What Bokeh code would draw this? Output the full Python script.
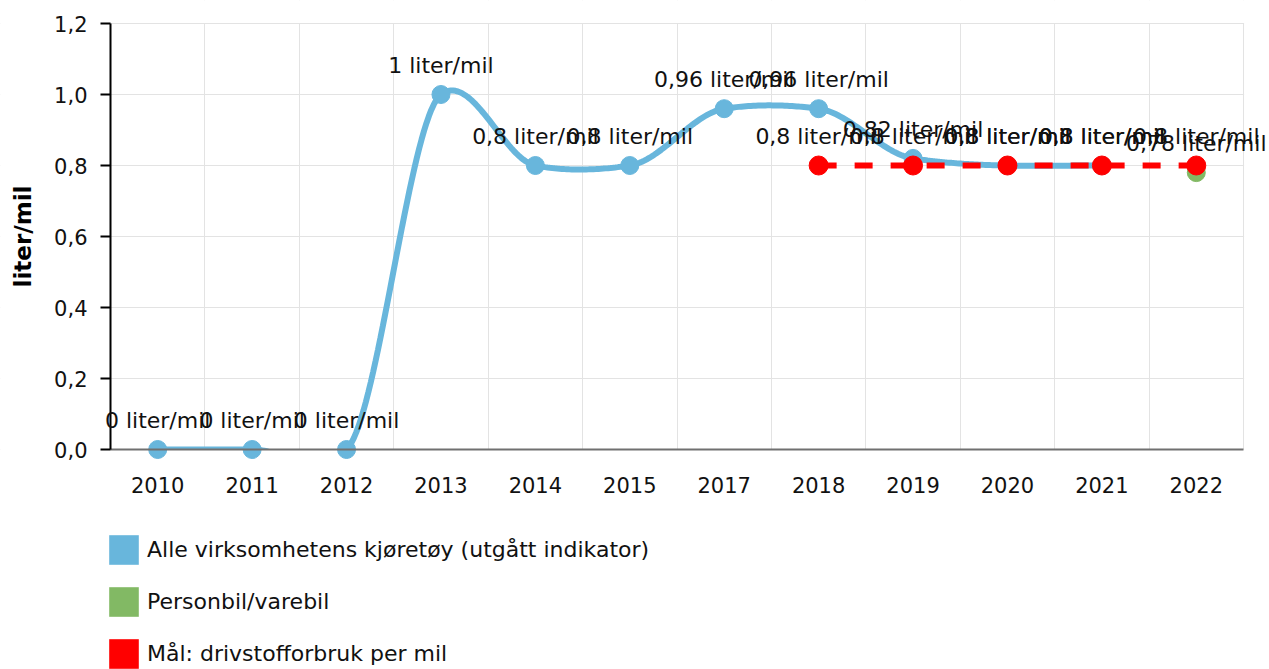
import numpy as np
from bokeh.plotting import figure
from bokeh.models import (Range1d, FixedTicker, Legend, LegendItem, LabelSet,
                          ColumnDataSource, CustomJSTickFormatter, BoxAnnotation)
from bokeh.core.properties import value
from bokeh.embed import file_html
from bokeh.resources import INLINE

# ---------------- data ----------------
years = ["2010", "2011", "2012", "2013", "2014", "2015", "2017",
         "2018", "2019", "2020", "2021", "2022"]
all_vehicles = [0, 0, 0, 1.0, 0.8, 0.8, 0.96, 0.96, 0.82, 0.8, 0.8, None]
car_van = [None, None, None, None, None, None, None, None, None, None, None, 0.78]
target = [None, None, None, None, None, None, None, 0.8, 0.8, 0.8, 0.8, 0.8]
series_names = ["Alle virksomhetens kjøretøy (utgått indikator)",
                "Personbil/varebil",
                "Mål: drivstofforbruk per mil"]
y_ticks = [0, 0.2, 0.4, 0.6, 0.8, 1.0, 1.2]
unit = "liter/mil"

BLUE = "#68b6dc"
GREEN = "#82b964"
RED = "#ff0000"
FONT = "DejaVu Sans"
FS = "21px"      # tick labels
FS_L = "22px"    # data labels and legend
TXT = "#111111"


def pts(vals):
    xs = [i for i, v in enumerate(vals) if v is not None]
    ys = [v for v in vals if v is not None]
    return xs, ys


def fmt(v):
    return ("%g" % v).replace(".", ",") + " " + unit


def cardinal(xs, ys, k=0.5, n=40):
    xs = np.asarray(xs, float)
    ys = np.asarray(ys, float)
    m = np.zeros_like(ys)
    m[1:-1] = (ys[2:] - ys[:-2]) / (xs[2:] - xs[:-2])
    m[0] = (ys[1] - ys[0]) / (xs[1] - xs[0]) / 2
    m[-1] = (ys[-1] - ys[-2]) / (xs[-1] - xs[-2]) / 2
    m = m * k
    ox, oy = [], []
    t = np.linspace(0, 1, n)
    h00 = 2 * t**3 - 3 * t**2 + 1
    h10 = t**3 - 2 * t**2 + t
    h01 = -2 * t**3 + 3 * t**2
    h11 = t**3 - t**2
    for i in range(len(xs) - 1):
        dx = xs[i + 1] - xs[i]
        ox.extend(xs[i] + t * dx)
        oy.extend(h00 * ys[i] + h10 * dx * m[i] + h01 * ys[i + 1] + h11 * dx * m[i + 1])
    return ox, oy


# ---------------- layout (pixels) ----------------
W, H = 1269, 669
PL, PR, PT, PB = 110, 1243, 23, 449          # plot area edges
n = len(years)
cat_w = (PR - PL) / n
x0, x1 = -0.5, n - 0.5
y0, y1 = y_ticks[0], y_ticks[-1]
ppu = (PB - PT) / (y1 - y0)
xr = Range1d(x0 - PL / cat_w, x0 + (W - PL) / cat_w)
yr = Range1d(y0 - (H - PB) / ppu, y1 + PT / ppu)

p = figure(width=W, height=H, output_backend="svg", toolbar_location=None,
           x_range=xr, y_range=yr, min_border=0)
p.outline_line_color = None
p.background_fill_color = "white"
p.border_fill_color = "white"

# axes (drawn at fixed data positions inside the canvas)
p.xaxis.fixed_location = y0
p.xaxis.bounds = (x0, x1)
p.xaxis.ticker = FixedTicker(ticks=list(range(n)))
p.xaxis.major_label_overrides = {i: y for i, y in enumerate(years)}
p.xaxis.major_tick_out = 0
p.xaxis.major_tick_in = 0
p.xaxis.minor_tick_out = 0
p.xaxis.minor_tick_in = 0
p.xaxis.axis_line_color = "#707070"
p.xaxis.axis_line_width = 2
p.xaxis.major_label_standoff = 27
p.xaxis.major_label_text_font = FONT
p.xaxis.major_label_text_font_size = FS
p.xaxis.major_label_text_color = TXT

p.yaxis.fixed_location = x0
p.yaxis.bounds = (y0, y1)
p.yaxis.ticker = FixedTicker(ticks=y_ticks)
p.yaxis.formatter = CustomJSTickFormatter(code="return tick.toFixed(1).replace('.', ',');")
p.yaxis.major_tick_out = 10
p.yaxis.major_tick_in = 0
p.yaxis.minor_tick_out = 0
p.yaxis.minor_tick_in = 0
p.yaxis.axis_line_color = "black"
p.yaxis.axis_line_width = 2
p.yaxis.major_tick_line_color = "black"
p.yaxis.major_tick_line_width = 2
p.yaxis.major_label_standoff = 13
p.yaxis.major_label_text_font = FONT
p.yaxis.major_label_text_font_size = FS
p.yaxis.major_label_text_color = TXT
p.yaxis.axis_label = unit
p.yaxis.axis_label_text_font = FONT
p.yaxis.axis_label_text_font_size = "23px"
p.yaxis.axis_label_text_font_style = "bold"
p.yaxis.axis_label_text_color = "black"
p.yaxis.axis_label_standoff = 15

p.xgrid.ticker = FixedTicker(ticks=[i + 0.5 for i in range(n)])
p.xgrid.grid_line_color = "#e3e3e3"
p.ygrid.grid_line_color = "#e3e3e3"

# white masks: keep grid lines inside the plot area
for kw in [dict(right=x0), dict(left=x1 + 0.6 / cat_w), dict(bottom=y1 + 0.6 / ppu)]:
    p.add_layout(BoxAnnotation(fill_color="white", fill_alpha=1, line_alpha=0,
                               level="underlay", **kw))

# series 1: smooth line
bx, by = pts(all_vehicles)
sx, sy = cardinal(bx, by)
p.line(sx, sy, line_color=BLUE, line_width=6)
# mask below the x axis (clips the spline and grid like the plot area does)
p.quad(left=[xr.start], right=[xr.end], bottom=[yr.start], top=[y0],
       fill_color="white", line_color=None)

p.scatter(bx, by, size=18, fill_color=BLUE, line_color=BLUE)

# series 2
gx, gy = pts(car_van)
p.scatter(gx, gy, size=18, fill_color=GREEN, line_color=GREEN)

# series 3: target
rx, ry = pts(target)
p.line(rx, ry, line_color=RED, line_width=6, line_dash="18 18")
p.scatter(rx, ry, size=19, fill_color=RED, line_color=RED)

# data labels
for xs, ys in [(bx, by), (gx, gy), (rx, ry)]:
    src = ColumnDataSource(dict(x=xs, y=ys, t=[fmt(v) for v in ys]))
    p.add_layout(LabelSet(x="x", y="y", text="t", source=src, text_align="center",
                          text_baseline="middle", y_offset=29,
                          text_font=value(FONT), text_font_size=FS_L, text_color=TXT))

# legend proxies (no visible data)
proxies = []
for c in [BLUE, GREEN, RED]:
    proxies.append(p.quad(left=[np.nan], right=[np.nan], top=[np.nan], bottom=[np.nan],
                          fill_color=c, line_color=None))
legend = Legend(items=[LegendItem(label=nm, renderers=[r]) for nm, r in zip(series_names, proxies)],
                location=(105, -3), glyph_width=37, glyph_height=37, spacing=15,
                label_standoff=5, padding=0, margin=0, border_line_color=None,
                background_fill_alpha=0, label_text_font=FONT, label_text_font_size=FS_L,
                label_text_color=TXT)
p.add_layout(legend)

open("out.html", "w").write(file_html(p, INLINE))
